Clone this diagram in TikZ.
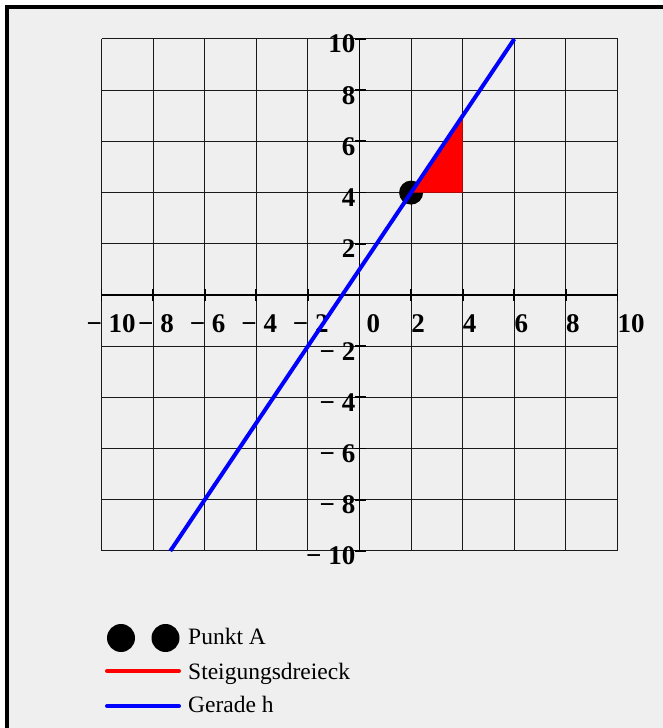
\documentclass[tikz,border=0pt]{standalone}
\usepackage{fontspec}
\setmainfont{Liberation Serif}
\definecolor{panelgray}{HTML}{EFEFEF}
\tikzset{
  gridline/.style={line width=1pt, black!90},
  axisline/.style={line width=1.8pt},
  ticklab/.style={font=\fontsize{27}{27}\selectfont\bfseries, inner sep=0pt},
  legtext/.style={font=\fontsize{23.5}{24}\selectfont, inner sep=0pt, anchor=base west},
  dotmark/.style={circle, fill=black, inner sep=0pt},
  gerade/.style={blue, line width=4pt},
}

\begin{document}
\begin{tikzpicture}[x=1pt,y=1pt]
    \useasboundingbox (0,0) rectangle (663,728);
    % Panel
    \fill[white] (0,0) rectangle (663,728);
    \fill[panelgray] (7,0) rectangle (663,721);
    \draw[line width=4pt] (7,0) -- (7,721) -- (663,721);

    \begin{scope}[shift={(359.5pt,433pt)}, x=25.8pt, y=25.6pt]
    % Grid
    \foreach \k in {-10,-8,...,10} {
      \draw[gridline] (\k,-10) -- (\k,10);
      \draw[gridline] (-10,\k) -- (10,\k);
    }

    % Axes and ticks
    \draw[axisline] (-10,0) -- (10,0);
    \draw[axisline] (0,-10) -- (0,10);
    \foreach \k in {-10,-8,...,10} {
      \draw[axisline] ([yshift=-6pt]\k,0) -- ([yshift=6pt]\k,0);
      \draw[axisline] ([xshift=-5pt]0,\k) -- ([xshift=6pt]0,\k);
    }

    % x labels
    \node[ticklab, anchor=base west] (xm10) at ([xshift=7pt,yshift=-38pt]-10,0) {\llap{−\ }10};
    \node[ticklab, anchor=base west] (xm8) at ([xshift=7pt,yshift=-38pt]-8,0) {\llap{−\ }8};
    \node[ticklab, anchor=base west] (xm6) at ([xshift=7pt,yshift=-38pt]-6,0) {\llap{−\ }6};
    \node[ticklab, anchor=base west] (xm4) at ([xshift=7pt,yshift=-38pt]-4,0) {\llap{−\ }4};
    \node[ticklab, anchor=base west] (xm2) at ([xshift=7pt,yshift=-38pt]-2,0) {\llap{−\ }2};
    \node[ticklab, anchor=base west] (x0) at ([xshift=7pt,yshift=-38pt]0,0) {0};
    \node[ticklab, anchor=base west] (x2) at ([xshift=0pt,yshift=-38pt]2,0) {2};
    \node[ticklab, anchor=base west] (x4) at ([xshift=0pt,yshift=-38pt]4,0) {4};
    \node[ticklab, anchor=base west] (x6) at ([xshift=0pt,yshift=-38pt]6,0) {6};
    \node[ticklab, anchor=base west] (x8) at ([xshift=0pt,yshift=-38pt]8,0) {8};
    \node[ticklab, anchor=base west] (x10) at ([xshift=0pt,yshift=-38pt]10,0) {10};

    % y labels
    \node[ticklab, anchor=base east] (y10) at ([xshift=-4pt,yshift=-14pt]0,10) {10};
    \node[ticklab, anchor=base east] (y8) at ([xshift=-4pt,yshift=-14pt]0,8) {8};
    \node[ticklab, anchor=base east] (y6) at ([xshift=-4pt,yshift=-14pt]0,6) {6};
    \node[ticklab, anchor=base east] (y4) at ([xshift=-4pt,yshift=-14pt]0,4) {4};
    \node[ticklab, anchor=base east] (y2) at ([xshift=-4pt,yshift=-14pt]0,2) {2};
    \node[ticklab, anchor=base east] (ym2) at ([xshift=-4pt,yshift=-14pt]0,-2) {−\ 2};
    \node[ticklab, anchor=base east] (ym4) at ([xshift=-4pt,yshift=-14pt]0,-4) {−\ 4};
    \node[ticklab, anchor=base east] (ym6) at ([xshift=-4pt,yshift=-14pt]0,-6) {−\ 6};
    \node[ticklab, anchor=base east] (ym8) at ([xshift=-4pt,yshift=-14pt]0,-8) {−\ 8};
    \node[ticklab, anchor=base east] (ym10) at ([xshift=-4pt,yshift=-14pt]0,-10) {−\ 10};

    % Punkt A, Steigungsdreieck, Gerade h
    \coordinate (A) at (2,4);
    \coordinate (B) at (4,4);
    \coordinate (C) at (4,7);
    \coordinate (hbot) at (-22/3,-10);
    \coordinate (htop) at (6,10);
    \node[dotmark, minimum size=24pt] (Adot) at (A) {};
    \fill[red] (A) -- (B) -- (C) -- cycle;
    \draw[gerade] (hbot) -- (htop);
    \end{scope}

    % Legend
    \node[dotmark, minimum size=28pt] (legA1) at (121,90) {};
    \node[dotmark, minimum size=28pt] (legA2) at (165.5,90) {};
    \node[legtext] (legAtxt) at (188,83) {Punkt A};
    \coordinate (legR1) at (107,57);
    \coordinate (legR2) at (179,57);
    \draw[red, line width=4pt, line cap=round] (legR1) -- (legR2);
    \node[legtext] (legRtxt) at (188,48) {Steigungsdreieck};
    \coordinate (legB1) at (107,22);
    \coordinate (legB2) at (179,22);
    \draw[gerade, line cap=round] (legB1) -- (legB2);
    \node[legtext] (legBtxt) at (188,16) {Gerade h};
\end{tikzpicture}
\end{document}
